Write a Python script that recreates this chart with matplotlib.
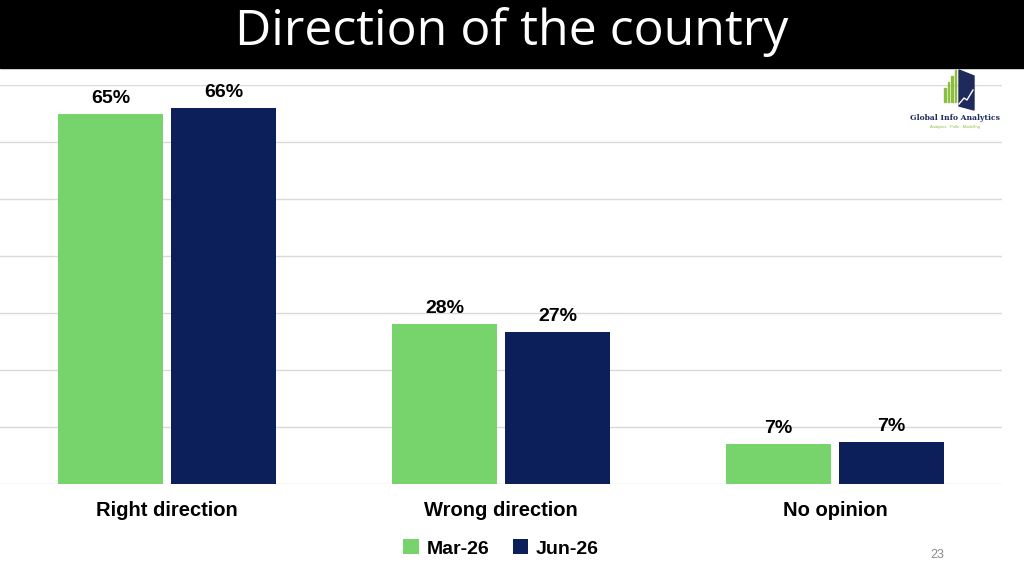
import numpy as np
import matplotlib.pyplot as plt
from matplotlib.patches import Rectangle, Polygon

plt.rcParams['font.family'] = ['Liberation Sans', 'DejaVu Sans']

categories = ['Right direction', 'Wrong direction', 'No opinion']
mar26 = [65, 28.1, 7.0]
jun26 = [66, 26.7, 7.4]
mar_labels = ['65%', '28%', '7%']
jun_labels = ['66%', '27%', '7%']

green = '#77d46c'
navy = '#0c1f5a'

fig = plt.figure(figsize=(10.24, 5.68), dpi=100)
# title band
fig.patches.append(Rectangle((0, 1 - 68/568), 1, 68/568, transform=fig.transFigure,
                             color='black', zorder=0))
fig.text(0.5, 1 - 32/568, 'Direction of the country', color='white', fontsize=36,
         ha='center', va='center', family='Open Sans')

ax = fig.add_axes([0, 84/568, 1002/1024, 399/568])
x = np.arange(len(categories))
w = 0.314
off = 0.169
b1 = ax.bar(x - off, mar26, w, color=green, label='Mar-26', zorder=2)
b2 = ax.bar(x + off, jun26, w, color=navy, label='Jun-26', zorder=2)
for bars, labs in ((b1, mar_labels), (b2, jun_labels)):
    for r, t in zip(bars, labs):
        ax.text(r.get_x() + r.get_width()/2, r.get_height() + 1.2, t, ha='center',
                va='bottom', fontsize=14, fontweight='bold')
ax.set_xlim(-0.5, 2.5)
ax.set_ylim(0, 70)
ax.set_yticks(np.arange(0, 71, 10))
ax.set_yticklabels([])
ax.tick_params(length=0)
ax.grid(axis='y', color='#d9d9d9', lw=1, zorder=0)
for s in ax.spines.values():
    s.set_visible(False)
ax.set_xticks(x)
ax.set_xticklabels(categories, fontsize=14.5, fontweight='bold')
ax.tick_params(axis='x', pad=12)
ax.legend(loc='upper center', bbox_to_anchor=(0.5, -0.095), ncol=2, frameon=False,
          prop={'size': 14, 'weight': 'bold'}, handlelength=0.8, handleheight=0.8,
          columnspacing=1.2, handletextpad=0.4)

# logo
lx = fig.add_axes([910/1024, 1 - 130/568, 90/1024, 62/568])
lx.set_xlim(0, 90); lx.set_ylim(0, 62); lx.axis('off')
for i, h in enumerate([14, 20, 26, 32]):
    lx.add_patch(Rectangle((34 + i*3.5, 28), 1.6, h, color='#8cbf3f'))
lx.add_patch(Polygon([[49, 24], [49, 60], [64, 54], [64, 20]], color='#1f2a5c'))
lx.plot([49, 54, 57, 63], [26, 32, 30, 40], color='white', lw=1)
lx.text(45, 10, 'Global Info Analytics', ha='center', fontsize=5.5, fontweight='bold',
        color='#1f2a5c', family='DejaVu Serif')
lx.text(45, 2, 'Analytics · Polls · Modelling', ha='center', fontsize=3, color='#8cbf3f')

fig.text(937/1024, 1 - 555/568, '23', fontsize=9, color='#888888', ha='center', va='center')
fig.savefig('out.png')
